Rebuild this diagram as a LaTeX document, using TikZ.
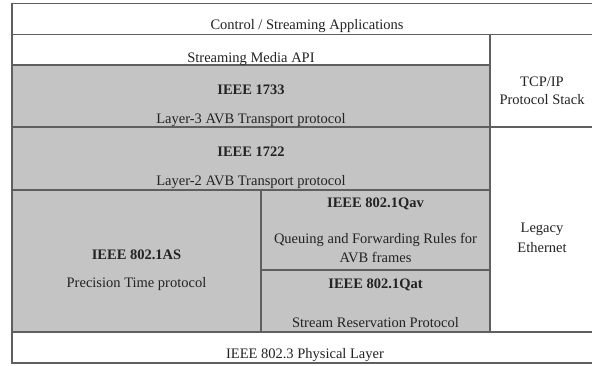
\documentclass[tikz,border=0pt]{standalone}
\usepackage{fontspec}
\setmainfont{Liberation Serif}
\definecolor{cellgray}{RGB}{196,196,196}
\definecolor{rulegray}{RGB}{95,95,95}
\definecolor{inkgray}{RGB}{35,35,35}
\tikzset{
	lbl/.style={anchor=base,inner sep=0pt,text=inkgray,font=\fontsize{14.5}{17}\selectfont},
	hd/.style={lbl,font=\fontsize{14.5}{17}\selectfont\bfseries},
}
\begin{document}
\begin{tikzpicture}[x=1pt,y=-1pt]
	\clip (0,0) rectangle (592,365);
	\fill[white] (0,0) rectangle (592,365);
	\fill[cellgray] (12,65) rectangle (490,332);
	\draw[rulegray,line width=1.3pt]
	(12,3.5) rectangle (597,363)
	(12,34.5)--(597,34.5)
	(12,65)--(490,65)
	(12,127)--(597,127)
	(12,190)--(490,190)
	(12,332)--(597,332)
	(490,34.5)--(490,332)
	(261,190)--(261,332)
	(261,270)--(490,270)
	;
	% left stack
	\path
	(307,29) node[lbl](11){Control / Streaming Applications}
	(251,62) node[lbl](21){Streaming Media API}
	(251,94) node[hd](31){IEEE 1733}
	(251,123) node[lbl](32){Layer-3 AVB Transport protocol}
	(251,156) node[hd](41){IEEE 1722}
	(251,185) node[lbl](42){Layer-2 AVB Transport protocol}
	(136.5,259) node[hd](51){IEEE 802.1AS}
	(136.5,287) node[lbl](52){Precision Time protocol}
	(375.5,207) node[hd](61){IEEE 802.1Qav}
	(375.5,243) node[lbl](62){Queuing and Forwarding Rules for}
	(375.5,262) node[lbl](63){AVB frames}
	(375.5,288) node[hd](71){IEEE 802.1Qat}
	(375.5,327) node[lbl](72){Stream Reservation Protocol}
	(305,358) node[lbl](81){IEEE 802.3 Physical Layer};
	% right column
	\path
	(542,86) node[lbl](91){TCP/IP}
	(542,104) node[lbl](92){Protocol Stack}
	(542,232) node[lbl](93){Legacy}
	(542,252) node[lbl](94){Ethernet};
\end{tikzpicture}
\end{document}
